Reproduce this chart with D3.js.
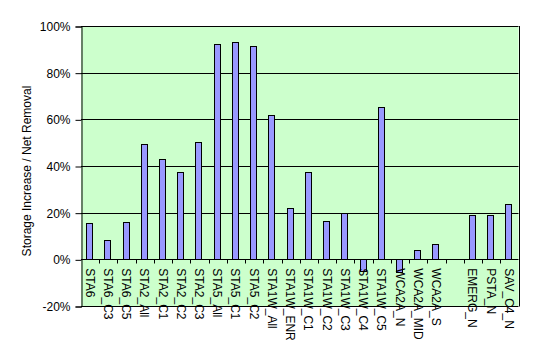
<!DOCTYPE html>
<html>
<head>
<meta charset="utf-8">
<script src="https://cdn.jsdelivr.net/npm/d3@7"></script>
<style>
  body { margin: 0; background: #fff; }
  text { font-family: "Liberation Sans", Arial, sans-serif; }
</style>
</head>
<body>
<div id="main"></div>
<script>
// sites along the x axis, "" is the blank gap before EMERG_N
const sites = ["STA6", "STA6_C3", "STA6_C5", "STA2_All", "STA2_C1", "STA2_C2", "STA2_C3",
  "STA5_All", "STA5_C1", "STA5_C2", "STA1W_All", "STA1W_ENR", "STA1W_C1", "STA1W_C2",
  "STA1W_C3", "STA1W_C4", "STA1W_C5", "WCA2A_N", "WCA2A_MID", "WCA2A_S", "",
  "EMERG_N", "PSTA_N", "SAV_C4_N"];

// storage increase / net removal, percent
const ratios = [15.7, 8.4, 16.2, 49.6, 43.2, 37.6, 50.5,
  92.1, 93.0, 91.3, 61.7, 21.8, 37.6, 16.6,
  20.0, -5.0, 65.5, -5.6, 4.2, 6.7, null,
  18.8, 18.8, 23.9];

const yTicks = [-20, 0, 20, 40, 60, 80, 100];

const W = 533, H = 352;
const plot = {left: 81, right: 518.5, top: 26, bottom: 306};

const svg = d3.select("#main").append("svg")
  .attr("width", W)
  .attr("height", H);

const x = d3.scaleBand()
  .domain(d3.range(sites.length))
  .range([plot.left, plot.right])
  .padding(0);

const y = d3.scaleLinear()
  .domain([-20, 100])
  .range([plot.bottom, plot.top]);

// plot background
svg.append("rect")
  .attr("x", plot.left)
  .attr("y", plot.top)
  .attr("width", plot.right - plot.left)
  .attr("height", plot.bottom - plot.top)
  .attr("fill", "#ccffcc");

// gridlines
svg.append("g")
  .selectAll("line")
  .data(yTicks)
  .join("line")
  .attr("x1", plot.left)
  .attr("x2", plot.right)
  .attr("y1", d => Math.round(y(d)) + 0.5)
  .attr("y2", d => Math.round(y(d)) + 0.5)
  .attr("stroke", "#000");

// right border
svg.append("line")
  .attr("x1", Math.round(plot.right) + 0.5)
  .attr("x2", Math.round(plot.right) + 0.5)
  .attr("y1", plot.top)
  .attr("y2", plot.bottom + 0.5)
  .attr("stroke", "#000");

// bars
const barW = 6;
svg.append("g")
  .selectAll("rect")
  .data(ratios.map((v, i) => ({v, i})).filter(d => d.v !== null))
  .join("rect")
  .attr("x", d => Math.round(x(d.i) + x.bandwidth() / 2 - barW / 2 - 1) + 0.5)
  .attr("y", d => Math.round(y(Math.max(0, d.v))) + 0.5)
  .attr("width", barW)
  .attr("height", d => Math.abs(Math.round(y(d.v)) - Math.round(y(0))))
  .attr("fill", "#9999ff")
  .attr("stroke", "#000");

// y axis
const yAxis = svg.append("g")
  .attr("transform", `translate(${plot.left + 0.5},0.5)`)
  .call(d3.axisLeft(y).tickValues(yTicks).tickSize(6).tickPadding(5)
    .tickFormat(d => d + "%"));
yAxis.select(".domain").attr("stroke", "#000");
yAxis.selectAll(".tick text")
  .attr("font-size", 12)
  .attr("font-family", "Liberation Sans, Arial, sans-serif")
  .attr("fill", "#000");

// x ticks at category boundaries along the zero line
const y0 = Math.round(y(0)) + 0.5;
svg.append("g")
  .selectAll("line")
  .data(d3.range(1, sites.length))
  .join("line")
  .attr("x1", d => Math.round(x(d)) + 0.5)
  .attr("x2", d => Math.round(x(d)) + 0.5)
  .attr("y1", y0)
  .attr("y2", y0 + 4)
  .attr("stroke", "#000");

// x labels, rotated
svg.append("g")
  .selectAll("text")
  .data(sites.map((s, i) => ({s, i})))
  .join("text")
  .attr("transform", d => `translate(${x(d.i) + x.bandwidth() / 2 - 0.5},${y(0) + 9}) rotate(90)`)
  .attr("dominant-baseline", "central")
  .attr("font-size", 12)
  .attr("fill", "#000")
  .text(d => d.s);

// y axis title
svg.append("text")
  .attr("transform", `translate(27,${(plot.top + plot.bottom) / 2 + 5}) rotate(-90)`)
  .attr("text-anchor", "middle")
  .attr("dominant-baseline", "central")
  .attr("font-size", 12)
  .attr("fill", "#000")
  .text("Storage Increase / Net Removal");
</script>
</body>
</html>
